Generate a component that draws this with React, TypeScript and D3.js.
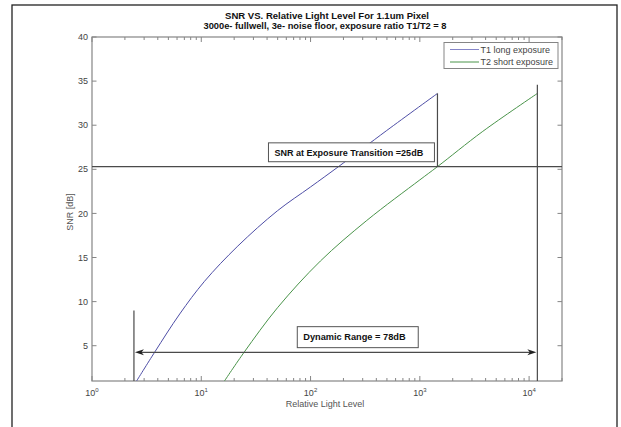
import * as d3 from 'd3'

// curves (relative light level, SNR dB)
const t1Level = [2.56, 3.76, 6.35, 10.7, 21.6, 49.8, 100, 180, 498, 1450]
const t1Snr = [1, 4.3, 8.6, 12.3, 16.3, 20.3, 23.0, 25.3, 29.4, 33.6]
const t2Level = [16.3, 24.8, 49.8, 123, 327, 1000, 1450, 3766, 11900]
const t2Snr = [1, 4.3, 9.3, 14.6, 19.2, 23.8, 25.3, 29.3, 33.6]

const yTicks = [5, 10, 15, 20, 25, 30, 35, 40]
const legendLabels = ['T1 long exposure', 'T2 short exposure']

// annotation values
const transitionSnr = 25.3
const rangeLow = 2.42
const rangeHigh = 11900
const t1EndLevel = 1450
const t1EndSnr = 33.6
const lowMarkTop = 9
const highMarkTop = 34.6
const arrowSnr = 4.25
const transitionBox = { x0: 41.2, x1: 1361, y0: 25.86, y1: 28.0, label: 'SNR at Exposure Transition =25dB' }
const rangeBox = { x0: 75.6, x1: 967, y0: 4.78, y1: 7.16, label: 'Dynamic Range = 78dB' }

const W = 621
const H = 427
const M = { left: 92, right: 562, top: 37, bottom: 381 }

const BLUE = '#4e4ea6'
const GREEN = '#4a944a'
const AXIS = '#858585'
const INK = '#4a4a4a'
const FONT = '"Liberation Sans", Arial, Helvetica, sans-serif'

export default function App(): JSX.Element {
  const x = d3.scaleLog().domain([1, 20000]).range([M.left, M.right])
  const y = d3.scaleLinear().domain([1, 40]).range([M.bottom, M.top])

  const line = d3
    .line<[number, number]>()
    .x((d) => x(d[0]))
    .y((d) => y(d[1]))
    .curve(d3.curveCatmullRom.alpha(0.5))

  const t1 = t1Level.map((v, i) => [v, t1Snr[i]] as [number, number])
  const t2 = t2Level.map((v, i) => [v, t2Snr[i]] as [number, number])

  const xTicks = x.ticks().filter((t) => t >= 1 && t <= 20000)
  const isMajor = (t: number) => Math.abs(Math.log10(t) - Math.round(Math.log10(t))) < 1e-9

  const arrowY = y(arrowSnr)
  const ax0 = x(rangeLow)
  const ax1 = x(rangeHigh)
  const head = (tipX: number, dir: number) =>
    `M${tipX},${arrowY} L${tipX + dir * 9},${arrowY - 3} L${tipX + dir * 6.5},${arrowY} L${tipX + dir * 9},${arrowY + 3} Z`

  const box = (b: typeof transitionBox, textLen: number) => (
    <g>
      <rect
        x={x(b.x0)}
        y={y(b.y1)}
        width={x(b.x1) - x(b.x0)}
        height={y(b.y0) - y(b.y1)}
        fill="#fff"
        stroke="#555"
        strokeWidth={1}
      />
      <text
        x={x(b.x0) + 6}
        y={(y(b.y0) + y(b.y1)) / 2}
        dy="0.36em"
        fontSize={9}
        fontWeight="bold"
        fill="#111"
        textLength={textLen}
        lengthAdjust="spacingAndGlyphs"
      >
        {b.label}
      </text>
    </g>
  )

  return (
    <svg
      width={W}
      height={H}
      style={{ position: 'absolute', left: 0, top: 0, background: '#fff' }}
      fontFamily={FONT}
    >
      <rect x={12} y={5} width={605} height={460} fill="none" stroke="#222" strokeWidth={1.3} />

      <text x={327} y={18.5} textAnchor="middle" fontSize={9} fontWeight="bold" fill="#111" textLength={204} lengthAdjust="spacingAndGlyphs">
        SNR VS. Relative Light Level For 1.1um Pixel
      </text>
      <text x={325} y={28.5} textAnchor="middle" fontSize={9} fontWeight="bold" fill="#111" textLength={243} lengthAdjust="spacingAndGlyphs">
        3000e- fullwell, 3e- noise floor, exposure ratio T1/T2 = 8
      </text>

      {/* axis box and ticks */}
      <rect x={M.left} y={M.top} width={M.right - M.left} height={M.bottom - M.top} fill="none" stroke={AXIS} strokeWidth={1.2} />
      {xTicks.map((t) => {
        const len = isMajor(t) ? 5 : 3
        return (
          <g key={`xt${t}`} stroke={AXIS} strokeWidth={1}>
            <line x1={x(t)} x2={x(t)} y1={M.bottom} y2={M.bottom - len} />
            <line x1={x(t)} x2={x(t)} y1={M.top} y2={M.top + len} />
          </g>
        )
      })}
      {xTicks.filter(isMajor).map((t) => (
        <text key={`xl${t}`} x={x(t)} y={396} textAnchor="middle" fontSize={9} fill="#444">
          10
          <tspan fontSize={6} dy={-4}>
            {Math.round(Math.log10(t))}
          </tspan>
        </text>
      ))}
      {yTicks.map((t) => (
        <g key={`yt${t}`}>
          <line x1={M.left} x2={M.left + 4.5} y1={y(t)} y2={y(t)} stroke={AXIS} />
          <line x1={M.right} x2={M.right - 4.5} y1={y(t)} y2={y(t)} stroke={AXIS} />
          <text x={88} y={y(t)} dy="0.35em" textAnchor="end" fontSize={9} fill="#444">
            {t}
          </text>
        </g>
      ))}
      <text x={325} y={407} textAnchor="middle" fontSize={9} fill="#555">
        Relative Light Level
      </text>
      <text transform={`translate(73,212) rotate(-90)`} textAnchor="middle" fontSize={9} fill="#555">
        SNR  [dB]
      </text>

      {/* curves */}
      <path d={line(t1) ?? ''} fill="none" stroke={BLUE} strokeWidth={1} />
      <path d={line(t2) ?? ''} fill="none" stroke={GREEN} strokeWidth={1} />

      {/* annotations */}
      <line x1={M.left} x2={M.right} y1={y(transitionSnr)} y2={y(transitionSnr)} stroke={INK} strokeWidth={1.2} />
      <line x1={ax0} x2={ax0} y1={M.bottom} y2={y(lowMarkTop)} stroke={INK} strokeWidth={1.2} />
      <line x1={ax1} x2={ax1} y1={M.bottom} y2={y(highMarkTop)} stroke={INK} strokeWidth={1.2} />
      <line x1={x(t1EndLevel)} x2={x(t1EndLevel)} y1={y(transitionSnr)} y2={y(t1EndSnr)} stroke={INK} strokeWidth={1.2} />
      <line x1={ax0 + 6} x2={ax1 - 6} y1={arrowY} y2={arrowY} stroke={INK} strokeWidth={1.2} />
      <path d={head(ax0 + 1, 1)} fill="#222" />
      <path d={head(ax1 - 1, -1)} fill="#222" />
      {box(transitionBox, 148.7)}
      {box(rangeBox, 102.3)}

      {/* legend */}
      <rect x={444} y={42.5} width={114} height={26} fill="#fff" stroke={AXIS} strokeWidth={1} />
      {legendLabels.map((label, i) => (
        <g key={label}>
          <line x1={450} x2={479} y1={49.5 + i * 12.5} y2={49.5 + i * 12.5} stroke={i === 0 ? '#8585c8' : GREEN} strokeWidth={1} />
          <text x={480.5} y={49.5 + i * 12.5} dy="0.35em" fontSize={9} fill="#444">
            {label}
          </text>
        </g>
      ))}
    </svg>
  )
}
